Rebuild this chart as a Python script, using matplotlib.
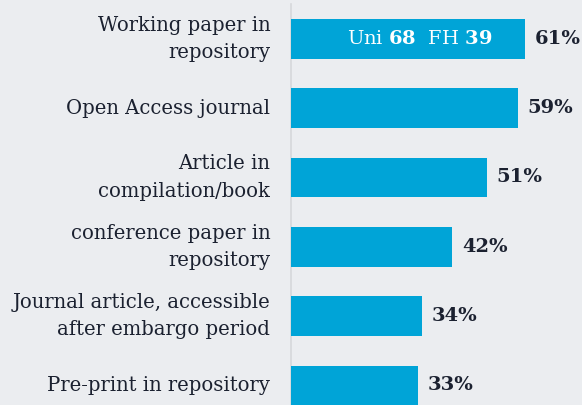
import matplotlib.pyplot as plt

plt.rcParams['font.family'] = 'DejaVu Serif'
plt.rcParams['mathtext.fontset'] = 'dejavuserif'

categories = ['Working paper in\nrepository', 'Open Access journal',
              'Article in\ncompilation/book', 'conference paper in\nrepository',
              'Journal article, accessible\nafter embargo period',
              'Pre-print in repository']
shares = [61, 59, 51, 42, 34, 33]
uni_share = 68
fh_share = 39

bg = '#ebedf0'
bar_color = '#00a4d7'
text_color = '#1b2130'

fig = plt.figure(figsize=(5.82, 4.05), dpi=100, facecolor=bg)
ax = fig.add_axes([0, 0, 1, 1], facecolor=bg)

ypos = list(range(len(categories)))
ax.barh(ypos, shares, height=0.57, color=bar_color, zorder=3)

ax.set_xlim(-75.7, 75.7)
ax.set_ylim(5.283, -0.561)

for s in ['top', 'right', 'bottom']:
    ax.spines[s].set_visible(False)
ax.spines['left'].set_position(('data', 0))
ax.spines['left'].set_bounds(-0.5, 5.3)
ax.spines['left'].set_color('#d6d8db')
ax.spines['left'].set_linewidth(1.2)
ax.set_xticks([])
ax.set_yticks([])

for y, cat, v in zip(ypos, categories, shares):
    ax.annotate(cat, (0, y), xytext=(-15, 0), textcoords='offset points',
                ha='right', va='center', fontsize=14.1, color=text_color,
                linespacing=1.55)
    ax.annotate(f'{v}%', (v, y), xytext=(7, 0), textcoords='offset points',
                ha='left', va='center', fontsize=14, fontweight='bold',
                color=text_color)

ax.annotate(r'Uni $\mathbf{' + str(uni_share) + r'}$  FH $\mathbf{' + str(fh_share) + '}$',
            (0, 0), xytext=(40, 0), textcoords='offset points',
            ha='left', va='center', fontsize=14, color='white', zorder=4)

fig.savefig('out.png', dpi=100, facecolor=bg)
